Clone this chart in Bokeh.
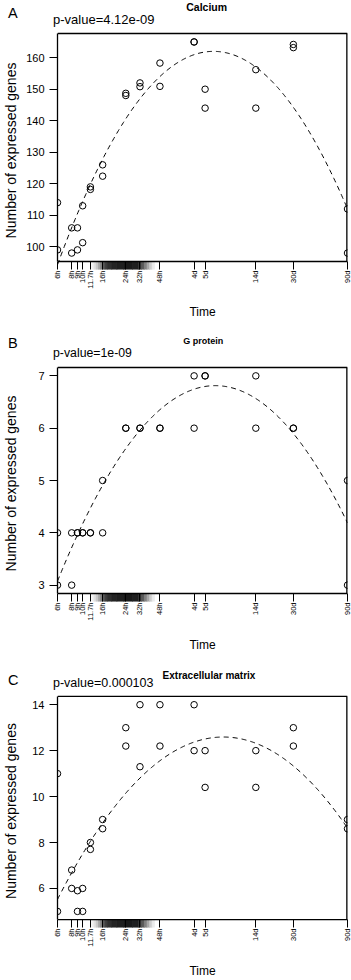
import numpy as np
from bokeh.plotting import figure
from bokeh.layouts import column
from bokeh.models import Range1d, FixedTicker, Span, Div
from bokeh.embed import file_html
from bokeh.resources import INLINE

# ---------------- data ----------------
times_h = [6, 8, 9, 10, 11.7, 15, 24, 32, 48, 96, 120, 336, 720, 2160]
time_labels = ["6h", "8h", "9h", "10h", "11.7h", "16h", "24h", "32h", "48h",
               "4d", "5d", "14d", "30d", "90d"]

calcium_rep1 = [114, 106, 106, 113, 119, 126, 148.7, 152, 158.3, 165, 150, 156.2, 164.2, 112]
calcium_rep2 = [99, 98, 99, 101.3, 118.2, 122.4, 148, 150.8, 150.9, 165, 144, 144, 163.2, 98]
gprotein_rep1 = [4, 4, 4, 4, 4, 5, 6, 6, 6, 7, 7, 7, 6, 5]
gprotein_rep2 = [3, 3, 4, 4, 4, 4, 6, 6, 6, 6, 7, 6, 6, 3]
ecm_rep1 = [11, 6.8, 5.9, 6.0, 8.0, 9.0, 13, 14, 14, 14, 12, 12, 13, 9.0]
ecm_rep2 = [5, 6.0, 5.0, 5.0, 7.7, 8.6, 12.2, 11.3, 12.2, 12, 10.4, 10.4, 12.2, 8.6]

# dashed trend curves
calcium_curve_h = [6, 12, 24, 48, 96, 142, 336, 720, 2160]
calcium_curve_v = [94.3, 120.7, 140.6, 154.0, 161.0, 162.0, 157.0, 144.3, 112.0]
gprotein_curve_h = [6, 10, 11.7, 15, 24, 37, 48, 96, 154, 336, 720, 2160]
gprotein_curve_v = [2.98, 4.24, 4.49, 4.95, 5.6, 6.21, 6.37, 6.6, 6.75, 6.56, 6.02, 4.15]
ecm_curve_h = [6, 8, 11.7, 15, 37, 48, 164, 336, 720, 2160]
ecm_curve_v = [5.6, 6.6, 7.9, 8.8, 11.38, 11.64, 12.63, 12.1, 11.24, 8.75]

calcium_yticks = [100, 110, 120, 130, 140, 150, 160]
gprotein_yticks = [3, 4, 5, 6, 7]
ecm_yticks = [6, 8, 10, 12, 14]

pvalues = ["p-value=4.12e-09", "p-value=1e-09", "p-value=0.000103"]
titles = ["Calcium", "G protein", "Extracellular matrix"]
letters = ["A", "B", "C"]

# shaded band along the time axis (hour edges, darkness per strip)
band_edges_h = [12, 12.6, 13.2, 13.8, 14.4, 15, 15.7, 16.5, 18, 20, 23, 27.5, 31,
                33, 35, 37, 39, 41, 43]
band_darkness = [0.05, 0.12, 0.22, 0.35, 0.5, 0.65, 0.75, 0.82, 0.86, 0.88, 0.9,
                 0.88, 0.8, 0.65, 0.5, 0.35, 0.2, 0.08]

FONT = "Liberation Sans"
W = 351
LEFT, RIGHT = 57, 4
BAND_PX = 8      # band / tick length below the box
TOP_GAP = 2      # frame starts this far above the box top


def header(hh, letter, name, pval, letter_y, title_x, title_y, pval_y,
           letter_fs, title_fs, pval_fs):
    def piece(txt, x, baseline, fs, bold=False, center=False):
        top = baseline - 0.8465 * fs
        tr = "transform:translateX(-50%);" if center else ""
        fw = "bold" if bold else "normal"
        return (f'<div style="position:absolute;left:{x}px;top:{top:.2f}px;'
                f'font-size:{fs}px;line-height:1;font-weight:{fw};'
                f'white-space:nowrap;margin:0;padding:0;{tr}">{txt}</div>')
    html = (f'<div style="position:relative;width:{W}px;height:{hh}px;margin:0;padding:0;'
            f"font-family:'{FONT}';color:black;\">"
            + piece(letter, 8, letter_y, letter_fs)
            + piece(name, title_x, title_y, title_fs, bold=True, center=True)
            + piece(pval, 53, pval_y, pval_fs)
            + "</div>")
    return Div(text=html, width=W, height=hh, margin=0,
               styles={"overflow": "visible", "padding": "0", "margin": "0"})


def panel(rep1, rep2, yticks, curve_h, curve_v, height, box_h, bottom,
          ylab_standoff, xlab_standoff):
    xs = times_h + times_h
    ys = rep1 + rep2
    lo, hi = min(ys), max(ys)
    pad = 0.04 * (hi - lo)
    y0, y1 = lo - pad, hi + pad
    upp = (y1 - y0) / box_h
    p = figure(width=W, height=height, title=None, x_axis_type="log",
               x_range=Range1d(6, 2160),
               y_range=Range1d(y0 - BAND_PX * upp, y1 + TOP_GAP * upp),
               output_backend="svg", toolbar_location=None,
               min_border_left=LEFT, min_border_right=RIGHT,
               min_border_top=0, min_border_bottom=bottom)
    p.grid.visible = False
    p.outline_line_color = None
    p.background_fill_color = "white"
    p.border_fill_color = "white"

    # shaded band just under the box (opaque greys)
    greys = ["#%02x%02x%02x" % ((round(255 * (1 - d)),) * 3) for d in band_darkness]
    p.quad(left=band_edges_h[:-1], right=band_edges_h[1:],
           bottom=y0 - BAND_PX * upp, top=y0, fill_color=greys,
           line_color=greys, line_width=0.8)

    # box: top & bottom edges, right edge (left edge = y axis line)
    p.add_layout(Span(location=y0, dimension="width", line_color="black", line_width=1.3))
    p.add_layout(Span(location=y1, dimension="width", line_color="black", line_width=1.3))
    p.segment(x0=[2160], y0=[y0], x1=[2160], y1=[y1], line_color="black", line_width=2.6)

    # smooth quadratic (in log time) through the curve values
    coef = np.polyfit(np.log(np.array(curve_h, float)), np.array(curve_v, float), 2)
    grid_h = np.exp(np.linspace(np.log(6), np.log(2160), 300))
    p.line(grid_h, np.polyval(coef, np.log(grid_h)), line_color="black",
           line_dash="5 4", line_width=1)
    p.scatter(xs, ys, marker="circle", size=6.5, fill_color=None,
              line_color="black", line_width=1)

    xa = p.xaxis[0]
    xa.ticker = FixedTicker(ticks=times_h, minor_ticks=[])
    xa.major_label_overrides = {t: l for t, l in zip(times_h, time_labels)}
    xa.major_label_orientation = np.pi / 2
    xa.major_label_text_font = FONT
    xa.major_label_text_font_size = "7.5px"
    xa.major_label_text_color = "black"
    xa.major_label_standoff = 1
    xa.major_tick_out = 0
    xa.major_tick_in = BAND_PX
    xa.major_tick_line_color = "black"
    xa.axis_line_color = None
    xa.axis_label = "Time"
    xa.axis_label_text_font = FONT
    xa.axis_label_text_font_style = "normal"
    xa.axis_label_text_font_size = "12px"
    xa.axis_label_text_color = "black"
    xa.axis_label_standoff = xlab_standoff

    ya = p.yaxis[0]
    ya.ticker = FixedTicker(ticks=yticks, minor_ticks=[])
    ya.bounds = (y0, y1)
    ya.major_label_text_font = FONT
    ya.major_label_text_font_size = "11px"
    ya.major_label_text_color = "black"
    ya.major_label_standoff = 5
    ya.major_tick_out = 8
    ya.major_tick_in = 0
    ya.major_tick_line_color = "black"
    ya.axis_line_color = "black"
    ya.axis_line_width = 1.3
    ya.axis_label = "Number of expressed genes"
    ya.axis_label_text_font = FONT
    ya.axis_label_text_font_style = "normal"
    ya.axis_label_text_font_size = "14px"
    ya.axis_label_text_color = "black"
    ya.axis_label_standoff = ylab_standoff
    return p


hA = header(31, letters[0], titles[0], pvalues[0], 18, 206.7, 10.7, 23.5, 14.5, 10.5, 13)
pA = panel(calcium_rep1, calcium_rep2, calcium_yticks, calcium_curve_h, calcium_curve_v,
           303, 228, 65, 4, 13)
hB = header(31, letters[1], titles[1], pvalues[1], 14.3, 203.3, 11, 23.3, 14.5, 9, 12.3)
pB = panel(gprotein_rep1, gprotein_rep2, gprotein_yticks, gprotein_curve_h, gprotein_curve_v,
           299, 226, 63, 16, 14)
hC = header(30, letters[2], titles[2], pvalues[2], 21, 209, 15.3, 23.7, 14.5, 10, 12.5)
pC = panel(ecm_rep1, ecm_rep2, ecm_yticks, ecm_curve_h, ecm_curve_v,
           286, 228, 48, 10, 14)

layout = column(hA, pA, hB, pB, hC, pC, spacing=0)
open("out.html", "w").write(file_html(layout, INLINE))
